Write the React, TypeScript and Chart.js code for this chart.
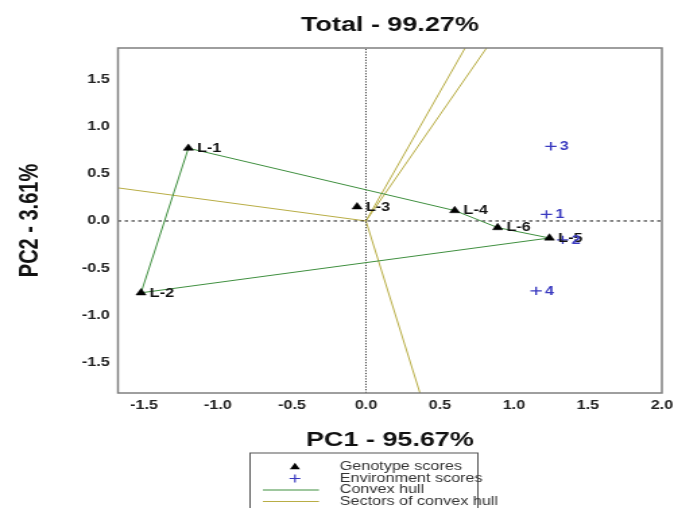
import React, { useEffect, useRef } from 'react';
import { Chart, registerables } from 'chart.js';

Chart.register(...registerables);

const FONT = '"Liberation Sans", Arial, Helvetica, sans-serif';
Chart.defaults.font.family = FONT;

// ---- data ----
const genotypeNames = ['L-1', 'L-2', 'L-3', 'L-4', 'L-5', 'L-6'];
const genotypePC1 = [-1.2, -1.52, -0.06, 0.6, 1.24, 0.89];
const genotypePC2 = [0.77, -0.76, 0.15, 0.11, -0.18, -0.07];

const envNames = ['1', '2', '3', '4'];
const envPC1 = [1.22, 1.33, 1.25, 1.15];
const envPC2 = [0.07, -0.2, 0.79, -0.74];

const hullOrder = ['L-1', 'L-4', 'L-6', 'L-5', 'L-2', 'L-1'];

const sectorEndPC1 = [-1.676, 0.67, 0.815, 0.365];
const sectorEndPC2 = [0.35, 1.83, 1.83, -1.82];

const xTickValues = [-1.5, -1.0, -0.5, 0.0, 0.5, 1.0, 1.5, 2.0];
const yTickValues = [-1.5, -1.0, -0.5, 0.0, 0.5, 1.0, 1.5];
const xRange = [-1.676, 2.0];
const yRange = [-1.82, 1.83];

const titleText = 'Total - 99.27%';
const xTitle = 'PC1 - 95.67%';
const yTitle = 'PC2 - 3.61%';
const legendLabels = ['Genotype scores', 'Environment scores', 'Convex hull', 'Sectors of convex hull'];

// ---- styles ----
const GEN_COLOR = '#000000';
const ENV_COLOR = '#3a3ac0';
const HULL_COLOR = '#3f8f3f';
const SECTOR_COLOR = '#b8ad45';
const CANVAS_W = 500;
const CANVAS_H = 508;

function drawTriangle(ctx: CanvasRenderingContext2D, x: number, y: number, r: number) {
  ctx.beginPath();
  for (let k = 0; k < 3; k++) {
    const a = (k * 2 * Math.PI) / 3;
    const px = x + Math.sin(a) * r;
    const py = y - Math.cos(a) * r;
    if (k === 0) ctx.moveTo(px, py);
    else ctx.lineTo(px, py);
  }
  ctx.closePath();
  ctx.fill();
}

const overlayPlugin = {
  id: 'overlayPlugin',
  afterDatasetsDraw(chart: any) {
    const { ctx, chartArea: a } = chart;
    ctx.save();
    // frame
    ctx.strokeStyle = '#7f7f7f';
    ctx.lineWidth = 1.5;
    ctx.setLineDash([]);
    ctx.strokeRect(a.left, a.top, a.right - a.left, a.bottom - a.top);

    // point labels
    ctx.textAlign = 'left';
    ctx.textBaseline = 'middle';
    ctx.font = `bold 12px ${FONT}`;
    const gMeta = chart.getDatasetMeta(0);
    ctx.fillStyle = '#111';
    gMeta.data.forEach((el: any, i: number) => {
      ctx.fillText(genotypeNames[i], el.x + 6.5, el.y + 0.5);
    });
    const eMeta = chart.getDatasetMeta(1);
    ctx.fillStyle = ENV_COLOR;
    eMeta.data.forEach((el: any, i: number) => {
      ctx.fillText(envNames[i], el.x + 6.5, el.y + 0.5);
    });
    ctx.restore();
  },
  afterDraw(chart: any) {
    const { ctx } = chart;
    ctx.save();
    // legend box
    const bx = 185.5;
    const by = 453;
    const bw = 169;
    ctx.strokeStyle = '#555';
    ctx.lineWidth = 1;
    ctx.strokeRect(bx, by, bw, 80);

    const symX = 218.8;
    const textX = 252;
    const rows = [467, 478.5, 490, 501.5];

    ctx.fillStyle = GEN_COLOR;
    drawTriangle(ctx, symX, rows[0], 4.3);

    ctx.strokeStyle = ENV_COLOR;
    ctx.lineWidth = 1.2;
    ctx.beginPath();
    ctx.moveTo(symX - 4, rows[1]);
    ctx.lineTo(symX + 4, rows[1]);
    ctx.moveTo(symX, rows[1] - 4);
    ctx.lineTo(symX, rows[1] + 4);
    ctx.stroke();

    ctx.lineWidth = 1;
    ctx.strokeStyle = HULL_COLOR;
    ctx.beginPath();
    ctx.moveTo(195, rows[2]);
    ctx.lineTo(236.6, rows[2]);
    ctx.stroke();

    ctx.strokeStyle = SECTOR_COLOR;
    ctx.beginPath();
    ctx.moveTo(195, rows[3]);
    ctx.lineTo(236.6, rows[3]);
    ctx.stroke();

    ctx.font = `12px ${FONT}`;
    ctx.fillStyle = '#333';
    ctx.textAlign = 'left';
    ctx.textBaseline = 'middle';
    legendLabels.forEach((t, i) => ctx.fillText(t, textX, rows[i]));
    ctx.restore();
  },
};

export default function App() {
  const canvasRef = useRef<HTMLCanvasElement | null>(null);

  useEffect(() => {
    const canvas = canvasRef.current;
    if (!canvas) return;

    const genotypePoints = genotypeNames.map((_, i) => ({ x: genotypePC1[i], y: genotypePC2[i] }));
    const envPoints = envNames.map((_, i) => ({ x: envPC1[i], y: envPC2[i] }));
    const hullPoints = hullOrder.map((n) => {
      const i = genotypeNames.indexOf(n);
      return { x: genotypePC1[i], y: genotypePC2[i] };
    });
    const sectorDatasets = sectorEndPC1.map((ex, i) => ({
      label: 'sector' + i,
      data: [
        { x: 0, y: 0 },
        { x: ex, y: sectorEndPC2[i] },
      ],
      showLine: true,
      borderColor: SECTOR_COLOR,
      borderWidth: 1,
      pointRadius: 0,
      fill: false,
    }));

    const chart = new Chart(canvas, {
      type: 'scatter',
      data: {
        datasets: [
          {
            label: 'Genotype scores',
            data: genotypePoints,
            pointStyle: 'triangle',
            pointRadius: 4.3,
            backgroundColor: GEN_COLOR,
            borderColor: GEN_COLOR,
            borderWidth: 0.5,
          },
          {
            label: 'Environment scores',
            data: envPoints,
            pointStyle: 'cross',
            pointRadius: 4.2,
            backgroundColor: ENV_COLOR,
            borderColor: ENV_COLOR,
            borderWidth: 1.3,
          },
          {
            label: 'Convex hull',
            data: hullPoints,
            showLine: true,
            borderColor: HULL_COLOR,
            borderWidth: 1,
            pointRadius: 0,
            fill: false,
          },
          {
            label: 'hzero',
            data: [
              { x: xRange[0], y: 0 },
              { x: xRange[1], y: 0 },
            ],
            showLine: true,
            borderColor: '#111',
            borderWidth: 1,
            borderDash: [2.5, 2.5],
            pointRadius: 0,
          },
          {
            label: 'vzero',
            data: [
              { x: 0, y: yRange[0] },
              { x: 0, y: yRange[1] },
            ],
            showLine: true,
            borderColor: '#333',
            borderWidth: 1,
            borderDash: [1.2, 1.5],
            pointRadius: 0,
          },
          ...sectorDatasets,
        ],
      },
      options: {
        responsive: false,
        animation: false,
        devicePixelRatio: 1,
        events: [],
        layout: { padding: { left: 0, right: 9, top: 0, bottom: 56 } },
        plugins: {
          legend: { display: false },
          tooltip: { enabled: false },
          title: {
            display: true,
            text: titleText,
            fullSize: false,
            color: '#111',
            font: { size: 20, weight: 'bold', family: FONT },
            padding: { top: 13, bottom: 11 },
          },
        },
        scales: {
          x: {
            type: 'linear',
            position: 'bottom',
            min: xRange[0],
            max: xRange[1],
            grid: { display: false, drawTicks: false },
            border: { display: false },
            afterBuildTicks: (s: any) => {
              s.ticks = xTickValues.map((v) => ({ value: v }));
            },
            afterFit: (s: any) => {
              s.height = 59;
              s.paddingLeft = 0;
              s.paddingRight = 0;
            },
            ticks: {
              padding: 5,
              autoSkip: false,
              maxRotation: 0,
              color: '#222',
              font: { size: 12, weight: 'bold', family: FONT },
              callback: (v: any) => Number(v).toFixed(1),
            },
            title: {
              display: true,
              text: xTitle,
              color: '#111',
              font: { size: 20, weight: 'bold', family: FONT },
              padding: { top: 0, bottom: 0 },
            },
          },
          y: {
            type: 'linear',
            position: 'left',
            min: yRange[0],
            max: yRange[1],
            grid: { display: false, drawTicks: false },
            border: { display: false },
            afterBuildTicks: (s: any) => {
              s.ticks = yTickValues.map((v) => ({ value: v }));
            },
            afterFit: (s: any) => {
              s.width = 87.5;
              s.paddingTop = 0;
              s.paddingBottom = 0;
            },
            ticks: {
              padding: 6,
              autoSkip: false,
              color: '#222',
              font: { size: 12, weight: 'bold', family: FONT },
              callback: (v: any) => Number(v).toFixed(1),
            },
            title: {
              display: true,
              text: yTitle,
              color: '#111',
              font: { size: 20, weight: 'bold', family: FONT },
              padding: { top: 10, bottom: 0 },
            },
          },
        },
      },
      plugins: [overlayPlugin],
    } as any);

    return () => {
      chart.destroy();
    };
  }, []);

  return (
    <div style={{ position: 'absolute', left: 0, top: 0, width: 674, height: 508, background: '#fff' }}>
      <canvas
        ref={canvasRef}
        width={CANVAS_W}
        height={CANVAS_H}
        style={{ width: '674px', height: '508px', display: 'block' }}
      />
    </div>
  );
}
